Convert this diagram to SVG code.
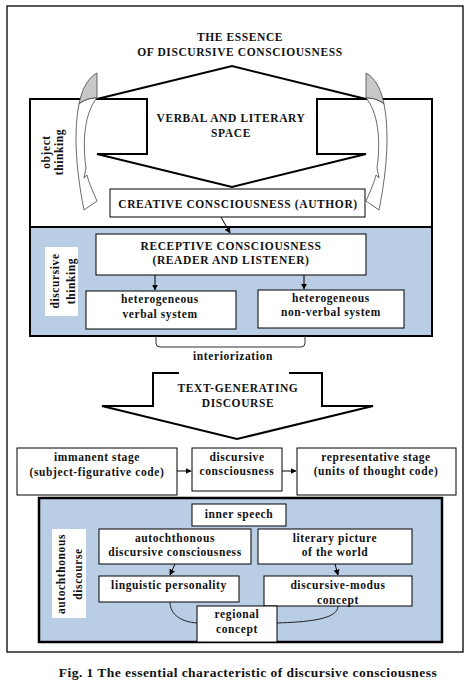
<svg xmlns="http://www.w3.org/2000/svg" width="474" height="688" viewBox="0 0 474 688">
<defs>
<marker id="ah" viewBox="0 0 10 10" refX="9" refY="5" markerWidth="6" markerHeight="6" orient="auto" markerUnits="userSpaceOnUse">
<path d="M0,0 L10,5 L0,10 Z" fill="#000"/>
</marker>
<g id="curl">
<path d="M97,73 C89,77 82,88 79,104 C84,100 90,98 97,98 Z" fill="#c8c8c8" stroke="#444" stroke-width="0.8"/>
<path d="M79,104 C74,130 75,165 84,210 L97,201 C92,190 88,180 87,175 L84,178 L86,168 C82,140 85,112 97,98 C90,98 84,100 79,104 Z" fill="#fff" stroke="#444" stroke-width="0.8"/>
</g>
</defs>
<style>
text{font-family:"Liberation Serif","Times New Roman",serif;font-weight:bold;font-size:11.5px;letter-spacing:0.6px;fill:#111;text-anchor:middle}
.box{fill:#fff;stroke:#000;stroke-width:1}
.blue{fill:#b9cde5}
.con{stroke:#000;stroke-width:1;fill:none}
.cap{font-size:13.5px;letter-spacing:0.45px}
</style>
<rect x="7" y="6" width="456" height="646" fill="#fff" stroke="#000" stroke-width="1.3"/>
<g id="title"><text x="240" y="41">THE ESSENCE</text><text x="240" y="56">OF DISCURSIVE CONSCIOUSNESS</text></g>
<g id="upper-frame">
<rect x="30" y="99" width="402" height="237" fill="#fff" stroke="#000" stroke-width="2"/>
<rect class="blue" x="31" y="227" width="400" height="108"/>
<line x1="30" y1="227" x2="432" y2="227" stroke="#000" stroke-width="2"/>
</g>
<g id="verbal-space">
<polygon points="147,99 97,99 232,66 366,99 317,99 317,154 366,154 232,187 97,154 147,154" fill="#fff" stroke="#000" stroke-width="2" stroke-linejoin="miter"/>
<text x="231" y="122">VERBAL AND LITERARY</text><text x="231" y="137">SPACE</text>
</g>
<g id="curl-left"><use href="#curl"/></g>
<g id="curl-right"><use href="#curl" transform="translate(463,0) scale(-1,1)"/></g>
<g id="object-thinking"><text transform="translate(50,152) rotate(-90)">object</text><text transform="translate(63,152) rotate(-90)">thinking</text></g>
<g id="creative"><rect class="box" x="110" y="189" width="255" height="28"/><text x="238" y="208">CREATIVE CONSCIOUSNESS (AUTHOR)</text></g>
<g id="receptive"><rect class="box" x="96" y="234" width="270" height="41"/><text x="231" y="250">RECEPTIVE CONSCIOUSNESS</text><text x="231" y="264">(READER AND LISTENER)</text></g>
<g id="discursive-thinking"><rect x="45" y="247" width="33" height="69" fill="#fff"/><text transform="translate(59,281) rotate(-90)">discursive</text><text transform="translate(75,281) rotate(-90)">thinking</text></g>
<g id="verbal-system"><rect class="box" x="86" y="291" width="150" height="38"/><text x="160" y="303">heterogeneous</text><text x="160" y="318">verbal system</text></g>
<g id="nonverbal-system"><rect class="box" x="258" y="290" width="146" height="38"/><text x="331" y="302">heterogeneous</text><text x="331" y="316">non-verbal system</text></g>
<g id="interiorization"><text x="233" y="360">interiorization</text></g>
<g id="text-generating">
<polygon points="153,373 322,373 322,406 373,406 237,439 102,406 153,406" fill="#fff" stroke="#000" stroke-width="2"/>
<line x1="179" y1="373" x2="289" y2="373" stroke="#fff" stroke-width="3"/>
<text x="238" y="392">TEXT-GENERATING</text><text x="238" y="407">DISCOURSE</text>
</g>
<g id="immanent"><rect class="box" x="17" y="448" width="160" height="47"/><text x="97" y="461">immanent stage</text><text x="97" y="476">(subject-figurative code)</text></g>
<g id="discursive-consciousness"><rect class="box" x="192" y="448" width="90" height="43"/><text x="237" y="461">discursive</text><text x="237" y="475">consciousness</text></g>
<g id="representative"><rect class="box" x="297" y="448" width="159" height="47"/><text x="376" y="461">representative stage</text><text x="376" y="475">(units of thought code)</text></g>
<g id="lower-frame"><rect class="blue" x="39" y="498" width="403" height="144" stroke="#000" stroke-width="2.5"/></g>
<g id="inner-speech"><rect class="box" x="192" y="504" width="94" height="22"/><text x="239" y="518">inner speech</text></g>
<g id="autochthonous-discourse"><rect x="52" y="529" width="34" height="89" fill="#fff"/><text transform="translate(65,574) rotate(-90)">autochthonous</text><text transform="translate(82,574) rotate(-90)">discourse</text></g>
<g id="autochthonous-consciousness"><rect class="box" x="99" y="529" width="152" height="35"/><text x="175" y="542">autochthonous</text><text x="175" y="556">discursive consciousness</text></g>
<g id="literary-picture"><rect class="box" x="258" y="529" width="154" height="35"/><text x="335" y="542">literary picture</text><text x="335" y="556">of the world</text></g>
<g id="linguistic-personality"><rect class="box" x="99" y="576" width="140" height="26"/><text x="169" y="589">linguistic personality</text></g>
<g id="discursive-modus"><rect class="box" x="264" y="576" width="148" height="30"/><text x="338" y="589">discursive-modus</text><text x="338" y="604">concept</text></g>
<g id="connectors">
<line class="con" x1="221" y1="217" x2="230" y2="233" marker-end="url(#ah)"/>
<line class="con" x1="155" y1="275" x2="155" y2="290" marker-end="url(#ah)"/>
<line class="con" x1="304" y1="275" x2="304" y2="289" marker-end="url(#ah)"/>
<path d="M156,336 L156,343 Q156,347 160,347 L301,347 Q305,347 305,343 L305,336" fill="none" stroke="#333" stroke-width="1"/>
<line class="con" x1="177" y1="471" x2="191" y2="471" marker-end="url(#ah)"/>
<line class="con" x1="282" y1="471" x2="296" y2="471" marker-end="url(#ah)"/>
<line class="con" x1="175" y1="564" x2="170" y2="575" marker-end="url(#ah)"/>
<line class="con" x1="335" y1="564" x2="338" y2="575" marker-end="url(#ah)"/>
<path d="M170,602 C170,615 182,622 197,623" fill="none" stroke="#222" stroke-width="1"/>
<path d="M277,623 C305,622 338,620 338,606" fill="none" stroke="#222" stroke-width="1"/>
</g>
<g id="regional"><rect class="box" x="197" y="606" width="80" height="36"/><text x="237" y="618">regional</text><text x="237" y="633">concept</text></g>
<g id="caption"><text class="cap" x="248" y="677">Fig. 1 The essential characteristic of discursive consciousness</text></g>
</svg>
